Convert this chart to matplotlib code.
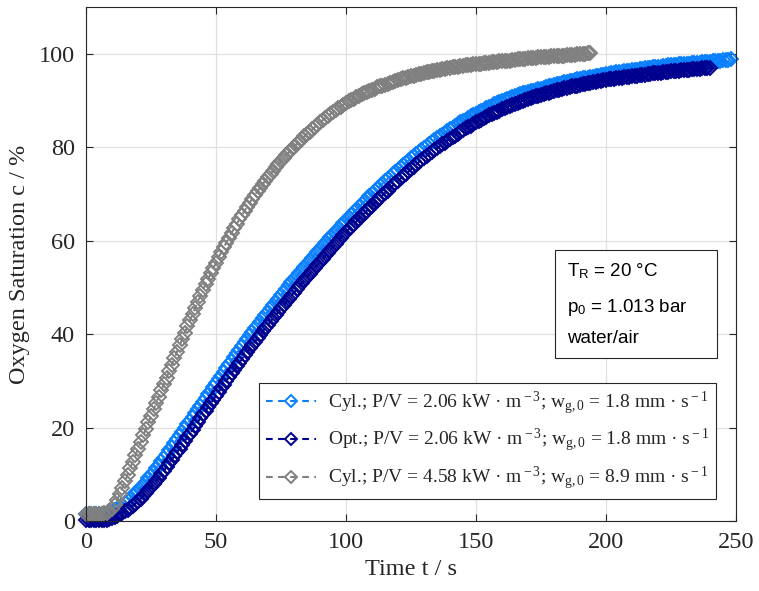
import numpy as np
import matplotlib
matplotlib.use("Agg")
import matplotlib.pyplot as plt
from matplotlib.patches import Rectangle

plt.rcParams["font.family"] = ["Liberation Serif", "DejaVu Serif"]
plt.rcParams["mathtext.fontset"] = "custom"
plt.rcParams["mathtext.rm"] = "Liberation Serif"
plt.rcParams["mathtext.it"] = "Liberation Serif:italic"
plt.rcParams["mathtext.sf"] = "Liberation Sans"

# --- measured oxygen saturation (%), sampled every 1 s ---
t_cyl_low = np.arange(0, 249)
c_cyl_low = [
    1.5, 1.5, 1.5, 1.45, 1.4, 1.45, 1.5, 1.55, 1.6, 1.8,
    2.0, 2.3, 2.6, 3.0, 3.4, 3.85, 4.3, 4.8, 5.3, 5.9,
    6.5, 7.15, 7.8, 8.45, 9.1, 9.8, 10.5, 11.25, 12.0, 12.75,
    13.5, 14.3, 15.1, 15.9, 16.7, 17.5, 18.3, 19.1, 19.9, 20.7,
    21.5, 22.3, 23.1, 23.9, 24.7, 25.5, 26.3, 27.1, 27.9, 28.7,
    29.5, 30.3, 31.1, 31.9, 32.7, 33.5, 34.3, 35.1, 35.9, 36.7,
    37.5, 38.25, 39.0, 39.75, 40.5, 41.2, 41.9, 42.65, 43.4, 44.1,
    44.8, 45.5, 46.2, 46.9, 47.6, 48.3, 49.0, 49.7, 50.4, 51.05,
    51.7, 52.35, 53.0, 53.65, 54.3, 54.95, 55.6, 56.25, 56.9, 57.55,
    58.2, 58.8, 59.4, 60.05, 60.7, 61.3, 61.9, 62.5, 63.1, 63.7,
    64.3, 64.9, 65.5, 66.05, 66.6, 67.2, 67.8, 68.35, 68.9, 69.45,
    70.0, 70.55, 71.1, 71.65, 72.2, 72.7, 73.2, 73.7, 74.2, 74.7,
    75.2, 75.7, 76.2, 76.65, 77.1, 77.6, 78.1, 78.55, 79.0, 79.4,
    79.8, 80.25, 80.7, 81.1, 81.5, 81.9, 82.3, 82.7, 83.1, 83.45,
    83.8, 84.2, 84.6, 84.95, 85.3, 85.6, 85.9, 86.25, 86.6, 86.9,
    87.2, 87.5, 87.8, 88.05, 88.3, 88.6, 88.9, 89.15, 89.4, 89.65,
    89.9, 90.1, 90.3, 90.5, 90.7, 90.9, 91.1, 91.3, 91.5, 91.65,
    91.8, 91.95, 92.1, 92.25, 92.4, 92.55, 92.7, 92.85, 93.0, 93.15,
    93.3, 93.45, 93.6, 93.75, 93.9, 94.0, 94.1, 94.25, 94.4, 94.5,
    94.6, 94.7, 94.8, 94.9, 95.0, 95.1, 95.2, 95.3, 95.4, 95.5,
    95.6, 95.7, 95.8, 95.9, 96.0, 96.05, 96.1, 96.2, 96.3, 96.4,
    96.5, 96.55, 96.6, 96.7, 96.8, 96.85, 96.9, 97.0, 97.1, 97.15,
    97.2, 97.25, 97.3, 97.4, 97.5, 97.55, 97.6, 97.65, 97.7, 97.75,
    97.8, 97.85, 97.9, 97.95, 98.0, 98.05, 98.1, 98.15, 98.2, 98.25,
    98.3, 98.35, 98.4, 98.45, 98.5, 98.6, 98.7, 98.75, 98.8,
]

t_opt_low = np.arange(0, 241)
c_opt_low = [
    0.3, 0.25, 0.2, 0.25, 0.3, 0.3, 0.3, 0.3, 0.3, 0.45,
    0.6, 0.85, 1.1, 1.4, 1.7, 2.05, 2.4, 2.8, 3.2, 3.7,
    4.2, 4.75, 5.3, 5.95, 6.6, 7.25, 7.9, 8.6, 9.3, 10.05,
    10.8, 11.6, 12.4, 13.15, 13.9, 14.7, 15.5, 16.3, 17.1, 17.9,
    18.7, 19.5, 20.3, 21.15, 22.0, 22.8, 23.6, 24.4, 25.2, 26.0,
    26.8, 27.6, 28.4, 29.2, 30.0, 30.8, 31.6, 32.35, 33.1, 33.9,
    34.7, 35.45, 36.2, 36.95, 37.7, 38.4, 39.1, 39.85, 40.6, 41.3,
    42.0, 42.7, 43.4, 44.1, 44.8, 45.5, 46.2, 46.9, 47.6, 48.25,
    48.9, 49.55, 50.2, 50.85, 51.5, 52.2, 52.9, 53.55, 54.2, 54.85,
    55.5, 56.15, 56.8, 57.45, 58.1, 58.7, 59.3, 59.95, 60.6, 61.2,
    61.8, 62.4, 63.0, 63.55, 64.1, 64.7, 65.3, 65.85, 66.4, 66.95,
    67.5, 68.05, 68.6, 69.15, 69.7, 70.2, 70.7, 71.25, 71.8, 72.3,
    72.8, 73.3, 73.8, 74.3, 74.8, 75.3, 75.8, 76.3, 76.8, 77.25,
    77.7, 78.15, 78.6, 79.0, 79.4, 79.8, 80.2, 80.6, 81.0, 81.4,
    81.8, 82.15, 82.5, 82.9, 83.3, 83.65, 84.0, 84.3, 84.6, 84.95,
    85.3, 85.6, 85.9, 86.2, 86.5, 86.8, 87.1, 87.35, 87.6, 87.85,
    88.1, 88.35, 88.6, 88.85, 89.1, 89.3, 89.5, 89.7, 89.9, 90.1,
    90.3, 90.5, 90.7, 90.85, 91.0, 91.2, 91.4, 91.55, 91.7, 91.85,
    92.0, 92.15, 92.3, 92.45, 92.6, 92.75, 92.9, 93.0, 93.1, 93.2,
    93.3, 93.45, 93.6, 93.7, 93.8, 93.9, 94.0, 94.1, 94.2, 94.3,
    94.4, 94.5, 94.6, 94.65, 94.7, 94.8, 94.9, 94.95, 95.0, 95.1,
    95.2, 95.25, 95.3, 95.4, 95.5, 95.55, 95.6, 95.7, 95.8, 95.85,
    95.9, 95.95, 96.0, 96.05, 96.1, 96.2, 96.3, 96.35, 96.4, 96.45,
    96.5, 96.55, 96.6, 96.65, 96.7, 96.75, 96.8, 96.85, 96.9, 96.95,
    97.0,
]

t_cyl_high = np.arange(0, 195)
c_cyl_high = [
    1.5, 1.5, 1.5, 1.55, 1.6, 1.6, 1.6, 1.7, 1.8, 2.1,
    2.5, 3.4, 4.5, 5.8, 7.1, 8.5, 9.9, 11.3, 12.7, 14.1,
    15.5, 16.9, 18.3, 19.7, 21.1, 22.5, 23.9, 25.25, 26.6, 27.95,
    29.3, 30.7, 32.1, 33.45, 34.8, 36.2, 37.6, 38.95, 40.3, 41.65,
    43.0, 44.3, 45.6, 46.9, 48.2, 49.45, 50.7, 51.85, 53.0, 54.15,
    55.3, 56.4, 57.5, 58.55, 59.6, 60.65, 61.7, 62.65, 63.6, 64.55,
    65.5, 66.4, 67.3, 68.15, 69.0, 69.8, 70.6, 71.35, 72.1, 72.85,
    73.6, 74.3, 75.0, 75.7, 76.4, 77.0, 77.6, 78.25, 78.9, 79.5,
    80.1, 80.65, 81.2, 81.75, 82.3, 82.8, 83.3, 83.8, 84.3, 84.8,
    85.3, 85.75, 86.2, 86.65, 87.1, 87.5, 87.9, 88.3, 88.7, 89.1,
    89.5, 89.8, 90.1, 90.4, 90.7, 91.0, 91.3, 91.55, 91.8, 92.05,
    92.3, 92.55, 92.8, 93.0, 93.2, 93.4, 93.6, 93.8, 94.0, 94.2,
    94.4, 94.55, 94.7, 94.85, 95.0, 95.15, 95.3, 95.45, 95.6, 95.75,
    95.9, 96.0, 96.1, 96.25, 96.4, 96.5, 96.6, 96.7, 96.8, 96.9,
    97.0, 97.1, 97.2, 97.25, 97.3, 97.4, 97.5, 97.55, 97.6, 97.7,
    97.8, 97.85, 97.9, 97.95, 98.0, 98.1, 98.2, 98.25, 98.3, 98.35,
    98.4, 98.45, 98.5, 98.55, 98.6, 98.7, 98.8, 98.85, 98.9, 98.95,
    99.0, 99.05, 99.1, 99.15, 99.2, 99.25, 99.3, 99.35, 99.4, 99.45,
    99.5, 99.55, 99.6, 99.6, 99.6, 99.65, 99.7, 99.75, 99.8, 99.85,
    99.9, 99.95, 100.0, 100.1, 100.2,
]

labels = [
    "Cyl.; P/V = 2.06 kW · m$^{\\rm -3}$; w$_{\\rm g,0}$ = 1.8 mm · s$^{\\rm -1}$",
    "Opt.; P/V = 2.06 kW · m$^{\\rm -3}$; w$_{\\rm g,0}$ = 1.8 mm · s$^{\\rm -1}$",
    "Cyl.; P/V = 4.58 kW · m$^{\\rm -3}$; w$_{\\rm g,0}$ = 8.9 mm · s$^{\\rm -1}$",
]
colors = ["#0a80ff", "#00008f", "#808080"]

x_ticks = [0, 50, 100, 150, 200, 250]
y_ticks = [0, 20, 40, 60, 80, 100]

W, H = 759, 591
fig = plt.figure(figsize=(W / 100, H / 100), dpi=100)
ax = fig.add_axes([86 / W, 1 - 521 / H, 650 / W, 514 / H])

dark = "#262626"
series = [(t_cyl_low, c_cyl_low), (t_opt_low, c_opt_low), (t_cyl_high, c_cyl_high)]
for (t, c), col, lab in zip(series, colors, labels):
    ax.plot(t, c, linestyle=(0, (3.2, 2.6)), color=col, lw=1.5,
            marker="D", markersize=7.4, markerfacecolor="none",
            markeredgewidth=1.4, markeredgecolor=col, label=lab,
            clip_on=False)

ax.set_xlim(0, 250)
ax.set_ylim(0, 110)
ax.set_xticks(x_ticks)
ax.set_yticks(y_ticks)
ax.grid(True, color="#e0e0e0", lw=0.9)
ax.set_axisbelow(True)
ax.tick_params(direction="in", length=5, width=0.8, colors=dark,
               labelsize=17.5, top=True, right=True)
ax.tick_params(axis="x", pad=8)
ax.tick_params(axis="y", pad=8)
for s in ax.spines.values():
    s.set_color(dark)
    s.set_linewidth(0.8)

ax.set_xlabel("Time t / s", fontsize=17.5, color=dark, labelpad=4)
ax.set_ylabel("Oxygen Saturation c / %", fontsize=17.5, color=dark, labelpad=6)

leg = ax.legend(loc="lower right", bbox_to_anchor=(0.969, 0.0428),
                borderaxespad=0, fontsize=14, handlelength=2.6,
                handletextpad=0.6, labelspacing=0.55, borderpad=0.35,
                fancybox=False, framealpha=1, numpoints=1, markerscale=0.85)
leg.get_frame().set_edgecolor(dark)
leg.get_frame().set_linewidth(0.8)
for txt in leg.get_texts():
    txt.set_color(dark)

# operating-conditions box
ax.add_patch(Rectangle((0.7215, 0.3171), 0.9708 - 0.7215, 0.5272 - 0.3171,
                       transform=ax.transAxes, facecolor="white",
                       edgecolor=dark, lw=0.8, zorder=5))
info = ["T$_{\\mathsf{R}}$ = 20 °C", "p$_{\\mathsf{0}}$ = 1.013 bar", "water/air"]
for line, yy in zip(info, [0.4753, 0.4072, 0.3463]):
    ax.text(0.7395, yy, line, transform=ax.transAxes, fontsize=13.5,
            family=["Liberation Sans", "DejaVu Sans"], color="black",
            va="baseline", ha="left", zorder=6)

fig.savefig("out.png", dpi=100)
